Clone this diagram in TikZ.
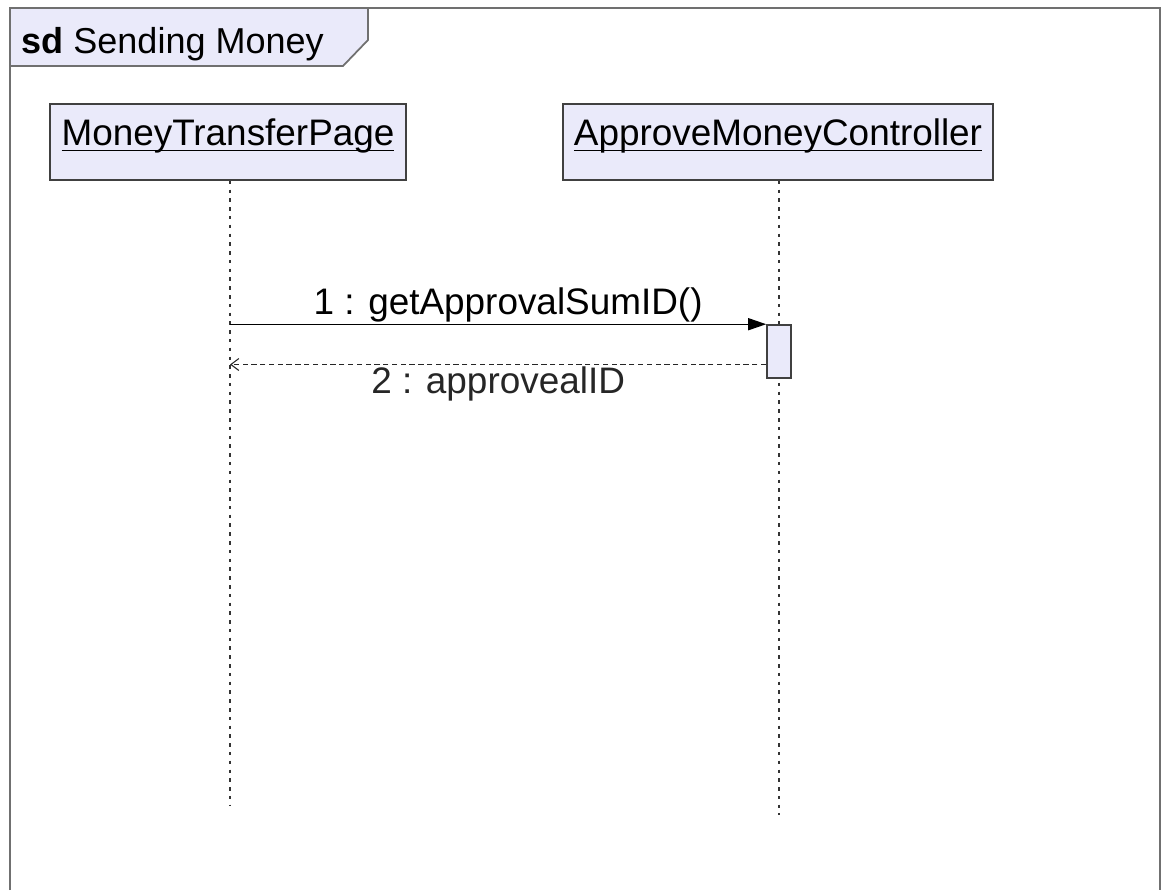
\documentclass[tikz,border=0pt]{standalone}
\usepackage{fontspec}
\setmainfont{Liberation Sans}
\usetikzlibrary{arrows.meta,positioning}
\definecolor{umlfill}{RGB}{234,234,250}
\definecolor{framegray}{RGB}{112,112,112}
\newcommand\umlname[1]{\underline{\raisebox{0pt}[\height][0.6mm]{#1}}}

\begin{document}
\begin{tikzpicture}[x=0.2mm, y=-0.2mm,
    lifehead/.style={draw=black!75, fill=umlfill, line width=0.9pt, minimum height=15.2mm,
        text height=6mm, text depth=4.8mm, inner sep=0pt, font=\fontsize{21}{25}\selectfont},
    lifeline/.style={line width=0.8pt, black!80, dash pattern=on 2pt off 3pt},
    activation/.style={draw=black!75, fill=umlfill, line width=0.9pt, minimum width=4.8mm, minimum height=10.6mm, inner sep=0pt},
    syncmsg/.style={line width=0.8pt, -{Triangle[length=3.6mm,width=2.4mm]}},
    retmsg/.style={line width=0.6pt, black!85, dash pattern=on 3pt off 2pt, -{Straight Barb[length=1.6mm,width=2.4mm]}},
    msglabel/.style={font=\fontsize{21}{25}\selectfont, inner sep=1pt}]
    \useasboundingbox (0,0) rectangle (1162,890);

    % frame and title tab
    \draw[framegray, line width=1.2pt] (10,890) -- (10,8) -- (1160,8) -- (1160,890);
    \draw[framegray, line width=1pt, fill=umlfill] (10,8) -- (368,8) -- (368,40) -- (343,66) -- (10,66) -- cycle;
    \node[anchor=base west, inner sep=0pt, font=\fontsize{20.5}{24}\selectfont] (title) at (21,53) {\textbf{sd} Sending Money};

    % lifelines
    \node[lifehead, minimum width=71.2mm] (page) at (228,142) {\umlname{MoneyTransferPage}};
    \node[lifehead, minimum width=86mm] (ctrl) at (778,142) {\umlname{ApproveMoneyController}};
    \coordinate (pageEnd) at (230,805);
    \coordinate (ctrlEnd) at (779,815);
    \draw[lifeline] (page.south -| pageEnd) -- (pageEnd);
    \draw[lifeline] (ctrl.south -| ctrlEnd) -- (ctrlEnd);

    \node[activation] (act) at (779,351.5) {};

    % messages
    \draw[syncmsg] (pageEnd |- act.north) -- (act.north west)
        node[msglabel, midway, above, xshift=2mm] {1 : getApprovalSumID()};
    \coordinate (ret) at ([yshift=-2.6mm]act.west);
    \draw[retmsg] (ret) -- (pageEnd |- ret)
        node[msglabel, midway, below] {2 : approvealID};
\end{tikzpicture}
\end{document}
